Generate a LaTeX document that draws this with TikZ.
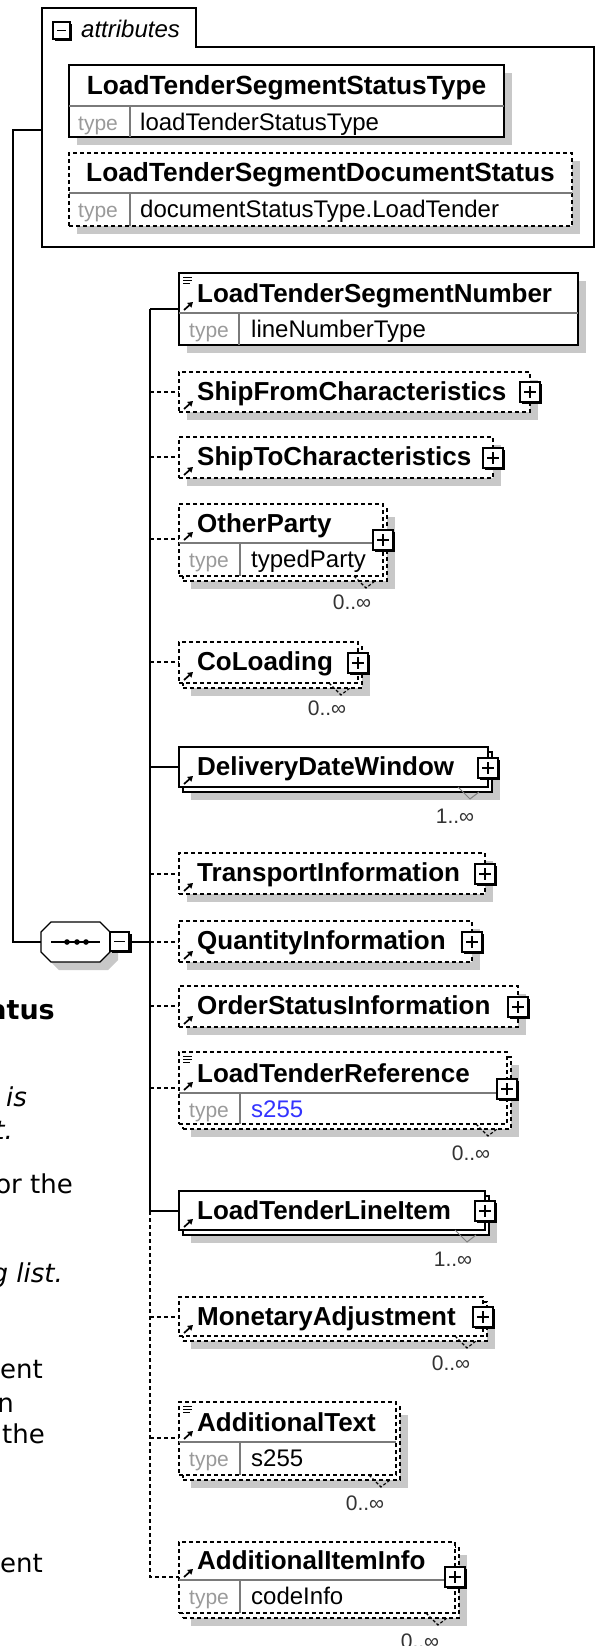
\documentclass[tikz,border=0pt]{standalone}
\usepackage{fontspec}
\setmainfont{Liberation Sans}
\newfontfamily\leftfont{DejaVu Sans}
\usetikzlibrary{arrows.meta}
\definecolor{shadowc}{HTML}{C8C8C8}
\definecolor{typegray}{HTML}{9A9A9A}
\definecolor{divgray}{HTML}{7A7A7A}
\definecolor{valblue}{HTML}{3333FF}
\definecolor{multc}{HTML}{333333}
\newcommand{\xsplus}[2]{%
  \fill[black] (#1-8,#2-8) rectangle (#1+12,#2+12);
  \draw[fill=white,line width=1.1pt] (#1-10,#2-10) rectangle (#1+10,#2+10);
  \draw[line width=1.3pt] (#1-6,#2) -- (#1+6,#2) (#1,#2-6) -- (#1,#2+6);}
\newcommand{\xsarrow}[2]{%
  \draw[line width=1.7pt,-{Triangle[length=5pt,width=6pt]}] (#1+5,#2-3) -- (#1+14,#2-11);}
\newcommand{\xslist}[2]{%
  \draw[line width=0.9pt] (#1+4,#2+4) -- (#1+13,#2+4) (#1+4,#2+7) -- (#1+13,#2+7) (#1+4,#2+10) -- (#1+11,#2+10);}
\newcommand{\xsvee}[4]{%
  \draw[#4] (#1-12,#2) -- (#1,#3+7) -- (#1+9,#3);}
\tikzset{
  ebox/.style={draw=black, fill=white, line width=1.5pt, inner sep=0pt, outer sep=0pt, anchor=north west},
  dbox/.style={ebox, dash pattern=on 4pt off 3pt},
  conn/.style={line width=1.4pt, draw=black},
  dconn/.style={conn, dash pattern=on 4pt off 3pt},
  ename/.style={anchor=base west, inner sep=0pt, font=\fontsize{26}{30}\selectfont\bfseries},
  aname/.style={anchor=base, inner sep=0pt, font=\fontsize{26.3}{30}\selectfont\bfseries},
  tlabel/.style={anchor=base west, inner sep=0pt, font=\fontsize{21}{24}\selectfont, text=typegray},
  tval/.style={anchor=base west, inner sep=0pt, font=\fontsize{24}{28}\selectfont},
  mult/.style={anchor=base, inner sep=0pt, font=\fontsize{21}{24}\selectfont, text=multc},
  divl/.style={line width=1.2pt, draw=divgray},
  solidv/.style={line width=1pt, draw=gray},
  dashv/.style={line width=1.1pt, draw=black, dash pattern=on 3pt off 2pt},
  ltextr/.style={anchor=base east, inner sep=0pt, font=\leftfont\fontsize{26}{30}\selectfont},
  ltexti/.style={anchor=base east, inner sep=0pt, font=\leftfont\itshape\fontsize{26}{30}\selectfont},
  ltextb/.style={anchor=base east, inner sep=0pt, font=\leftfont\bfseries\fontsize{27}{30}\selectfont},
}
\begin{document}
\begin{tikzpicture}[x=1pt,y=-1pt]
\useasboundingbox (0,0) rectangle (595,1646);
\clip (0,0) rectangle (595,1646);
\fill[white] (0,0) rectangle (595,1646);

% ---------- attributes container
\node[inner sep=0pt,outer sep=0pt,minimum width=552pt,minimum height=200pt,anchor=north west] (attr) at (42,47) {};
\draw[line width=1.3pt] (42,247) -- (42,8) -- (196,8) -- (196,47) -- (594,47) -- (594,247) -- cycle;
\fill[black] (55,24) rectangle (72,41);
\draw[fill=white,line width=1.2pt] (53,22) rectangle (70,39);
\draw[line width=1.3pt] (57,30.5) -- (66,30.5);
\node[anchor=base west,inner sep=0pt,font=\fontsize{24}{28}\selectfont\itshape] (attrT) at (81,38) {attributes};

% LoadTenderSegmentStatusType
\fill[shadowc] (77,73) rectangle (512,145);
\node[ebox, minimum width=435pt, minimum height=72pt] (ltsst) at (69,65) {};
\draw[divl] (69,106) -- (504,106);
\draw[divl] (130,106) -- (130,137);
\node[aname] (ltsstN) at (286.5,94) {LoadTenderSegmentStatusType};
\node[tlabel] (ltsstT) at (78,130) {type};
\node[tval] (ltsstV) at (140,130) {loadTenderStatusType};

% LoadTenderSegmentDocumentStatus
\fill[shadowc] (77,161) rectangle (580,234);
\node[dbox, minimum width=503pt, minimum height=73pt] (ltsds) at (69,153) {};
\draw[divl] (69,193) -- (572,193);
\draw[divl] (130,193) -- (130,226);
\node[aname] (ltsdsN) at (320.5,181) {LoadTenderSegmentDocumentStatus};
\node[tlabel] (ltsdsT) at (78,217) {type};
\node[tval] (ltsdsV) at (140,217) {documentStatusType.LoadTender};

% ---------- sequence compositor
\node[inner sep=0pt,outer sep=0pt,minimum width=69pt,minimum height=40pt,anchor=north west] (seq) at (41,922) {};
\fill[shadowc, shift={(8,8)}] (51,922) -- (100,922) -- (110,932) -- (110,952) -- (100,962) -- (51,962) -- (41,952) -- (41,932) -- cycle;
\draw[line width=1.3pt, fill=white] (51,922) -- (100,922) -- (110,932) -- (110,952) -- (100,962) -- (51,962) -- (41,952) -- (41,932) -- cycle;
\draw[line width=1.5pt] (51,942) -- (100,942);
\fill (67,942) circle (2.8pt) (77,942) circle (2.8pt) (86,942) circle (2.8pt);
\node[inner sep=0pt,outer sep=0pt,minimum width=22pt,minimum height=22pt] (seqm) at (121,942) {};
\fill[black] (112,934) rectangle (132,953);
\draw[fill=white,line width=1.2pt] (110,932) rectangle (129,951);
\draw[line width=1.3pt] (114,941.5) -- (125,941.5);

% left connector
\coordinate (la) at (13,130);
\coordinate (lb) at (13,942);
\draw[conn] (la -| attr.west) -- (la) -- (lb) -- (lb -| seq.west);

% vertical spine
\coordinate (vtop) at (150,309);
\coordinate (vmid) at (150,1211);
\coordinate (vbot) at (150,1577);
\coordinate (vseq) at (150,942);
\draw[conn] (seqm.east) -- (vseq);
\draw[conn] (vtop) -- (vmid);

% 1 LoadTenderSegmentNumber
\fill[shadowc] (187,281) rectangle (586,353);
\node[ebox, minimum width=399pt, minimum height=72pt] (ltsn) at (179,273) {};
\draw[divl] (179,313) -- (578,313);
\draw[divl] (239,313) -- (239,345);
\xslist{179}{273}
\xsarrow{179}{313}
\node[ename] (ltsnN) at (197,302) {LoadTenderSegmentNumber};
\node[tlabel] (ltsnT) at (189,337) {type};
\node[tval] (ltsnV) at (251,337) {lineNumberType};
\draw[conn] (vtop) -- (vtop -| ltsn.west);

% 2 ShipFromCharacteristics
\fill[shadowc] (187,380) rectangle (538,420);
\node[dbox, minimum width=351pt, minimum height=40pt] (sfc) at (179,372) {};
\xsarrow{179}{412}
\node[ename] (sfcN) at (197,400) {ShipFromCharacteristics};
\xsplus{530}{392}
\coordinate (c2) at (150,392);
\draw[dconn] (c2) -- (c2 -| sfc.west);

% 3 ShipToCharacteristics
\fill[shadowc] (187,445) rectangle (501,486);
\node[dbox, minimum width=314pt, minimum height=41pt] (stc) at (179,437) {};
\xsarrow{179}{478}
\node[ename] (stcN) at (197,465) {ShipToCharacteristics};
\xsplus{493}{458}
\coordinate (c3) at (150,457);
\draw[dconn] (c3) -- (c3 -| stc.west);

% 4 OtherParty
\fill[shadowc] (191,517) rectangle (395,589);
\node[dbox, minimum width=204pt, minimum height=72pt] (opb) at (183,509) {};
\node[dbox, minimum width=204pt, minimum height=72pt] (op) at (179,504) {};
\draw[divl] (179,543) -- (383,543);
\draw[divl] (240,543) -- (240,576);
\xsarrow{179}{543}
\node[ename] (opN) at (197,532) {OtherParty};
\node[tlabel] (opT) at (189,567) {type};
\node[tval] (opV) at (251,567) {typedParty};
\xsplus{383}{540}
\xsvee{366}{576}{581}{dashv}
\node[mult] (opM) at (352,609) {0..∞};
\coordinate (c4) at (150,539);
\draw[dconn] (c4) -- (c4 -| op.west);

% 5 CoLoading
\fill[shadowc] (191,655) rectangle (370,696);
\node[dbox, minimum width=179pt, minimum height=41pt] (colb) at (183,647) {};
\node[dbox, minimum width=179pt, minimum height=41pt] (col) at (179,642) {};
\xsarrow{179}{683}
\node[ename] (colN) at (197,670) {CoLoading};
\xsplus{358}{663}
\xsvee{341}{683}{688}{dashv}
\node[mult] (colM) at (327,715) {0..∞};
\coordinate (c5) at (150,662);
\draw[dconn] (c5) -- (c5 -| col.west);

% 6 DeliveryDateWindow
\fill[shadowc] (191,760) rectangle (500,800);
\node[ebox, minimum width=309pt, minimum height=40pt] (ddwb) at (183,752) {};
\node[ebox, minimum width=309pt, minimum height=40pt] (ddw) at (179,747) {};
\xsarrow{179}{787}
\node[ename] (ddwN) at (197,775) {DeliveryDateWindow};
\xsplus{488}{768}
\xsvee{470}{787}{792}{solidv}
\node[mult] (ddwM) at (455,823) {1..∞};
\coordinate (c6) at (150,767);
\draw[conn] (c6) -- (c6 -| ddw.west);

% 7 TransportInformation
\fill[shadowc] (187,861) rectangle (493,902);
\node[dbox, minimum width=306pt, minimum height=41pt] (ti) at (179,853) {};
\xsarrow{179}{894}
\node[ename] (tiN) at (197,881) {TransportInformation};
\xsplus{485}{874}
\coordinate (c7) at (150,874);
\draw[dconn] (c7) -- (c7 -| ti.west);

% 8 QuantityInformation
\fill[shadowc] (187,929) rectangle (480,970);
\node[dbox, minimum width=293pt, minimum height=41pt] (qi) at (179,921) {};
\xsarrow{179}{962}
\node[ename] (qiN) at (197,949) {QuantityInformation};
\xsplus{472}{942}
\draw[dconn] (vseq) -- (vseq -| qi.west);

% 9 OrderStatusInformation
\fill[shadowc] (187,994) rectangle (526,1035);
\node[dbox, minimum width=339pt, minimum height=41pt] (osi) at (179,986) {};
\xsarrow{179}{1027}
\node[ename] (osiN) at (197,1014) {OrderStatusInformation};
\xsplus{518}{1007}
\coordinate (c9) at (150,1006);
\draw[dconn] (c9) -- (c9 -| osi.west);

% 10 LoadTenderReference
\fill[shadowc] (191,1065) rectangle (519,1137);
\node[dbox, minimum width=328pt, minimum height=72pt] (ltrb) at (183,1057) {};
\node[dbox, minimum width=328pt, minimum height=72pt] (ltr) at (179,1052) {};
\draw[divl] (179,1093) -- (507,1093);
\draw[divl] (240,1093) -- (240,1124);
\xslist{179}{1052}
\xsarrow{179}{1093}
\node[ename] (ltrN) at (197,1082) {LoadTenderReference};
\node[tlabel] (ltrT) at (189,1117) {type};
\node[tval, text=valblue] (ltrV) at (251,1117) {s255};
\xsplus{507}{1089}
\xsvee{488}{1124}{1129}{dashv}
\node[mult] (ltrM) at (471,1160) {0..∞};
\coordinate (c10) at (150,1088);
\draw[dconn] (c10) -- (c10 -| ltr.west);

% 11 LoadTenderLineItem
\fill[shadowc] (191,1204) rectangle (497,1243);
\node[ebox, minimum width=306pt, minimum height=39pt] (ltlib) at (183,1196) {};
\node[ebox, minimum width=306pt, minimum height=39pt] (ltli) at (179,1191) {};
\xsarrow{179}{1230}
\node[ename] (ltliN) at (197,1219) {LoadTenderLineItem};
\xsplus{485}{1211}
\xsvee{467}{1230}{1235}{solidv}
\node[mult] (ltliM) at (453,1266) {1..∞};
\draw[conn] (vmid) -- (vmid -| ltli.west);

% 12 MonetaryAdjustment
\fill[shadowc] (191,1310) rectangle (495,1349);
\node[dbox, minimum width=304pt, minimum height=39pt] (mab) at (183,1302) {};
\node[dbox, minimum width=304pt, minimum height=39pt] (ma) at (179,1297) {};
\xsarrow{179}{1336}
\node[ename] (maN) at (197,1325) {MonetaryAdjustment};
\xsplus{483}{1317}
\xsvee{467}{1336}{1341}{dashv}
\node[mult] (maM) at (451,1370) {0..∞};
\coordinate (c12) at (150,1317);
\draw[dconn] (c12) -- (c12 -| ma.west);

% 13 AdditionalText
\fill[shadowc] (191,1415) rectangle (408,1488);
\node[dbox, minimum width=217pt, minimum height=73pt] (atb) at (183,1407) {};
\node[dbox, minimum width=217pt, minimum height=73pt] (at) at (179,1402) {};
\draw[divl] (179,1442) -- (396,1442);
\draw[divl] (240,1442) -- (240,1475);
\xslist{179}{1402}
\xsarrow{179}{1442}
\node[ename] (atN) at (197,1431) {AdditionalText};
\node[tlabel] (atT) at (189,1466) {type};
\node[tval] (atV) at (251,1466) {s255};
\xsvee{381}{1475}{1480}{dashv}
\node[mult] (atM) at (365,1510) {0..∞};
\coordinate (c13) at (150,1438);
\draw[dconn] (c13) -- (c13 -| at.west);

% 14 AdditionalItemInfo
\fill[shadowc] (191,1555) rectangle (467,1626);
\node[dbox, minimum width=276pt, minimum height=71pt] (aiib) at (183,1547) {};
\node[dbox, minimum width=276pt, minimum height=71pt] (aii) at (179,1542) {};
\draw[divl] (179,1580) -- (455,1580);
\draw[divl] (240,1580) -- (240,1613);
\xsarrow{179}{1580}
\node[ename] (aiiN) at (197,1569) {AdditionalItemInfo};
\node[tlabel] (aiiT) at (189,1604) {type};
\node[tval] (aiiV) at (251,1604) {codeInfo};
\xsplus{455}{1577}
\xsvee{438}{1613}{1618}{dashv}
\node[mult] (aiiM) at (420,1648) {0..∞};
\draw[dconn] (vmid) -- (vbot) -- (vbot -| aii.west);

% ---------- clipped documentation text on the left
\node[ltextb] (d1) at (55,1019) {Status};
\node[ltexti] (d2) at (27,1106) {is};
\node[ltexti] (d3) at (13,1139) {t.};
\node[ltextr] (d4) at (73,1193) {or the};
\node[ltexti] (d5) at (63,1282) {ing list.};
\node[ltextr] (d6) at (43,1378) {ment};
\node[ltextr] (d7) at (14,1412) {n};
\node[ltextr] (d8) at (45,1443) {the};
\node[ltextr] (d9) at (43,1572) {ment};
\end{tikzpicture}
\end{document}
